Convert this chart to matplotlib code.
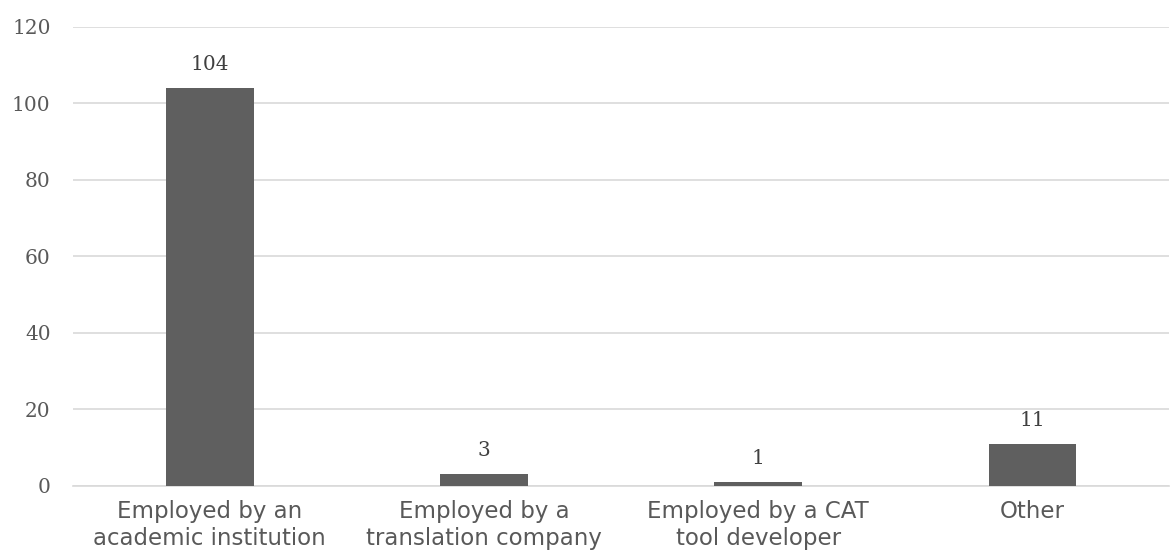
import matplotlib
matplotlib.use('Agg')
import matplotlib.pyplot as plt
import numpy as np

categories = ['Employed by an\nacademic institution', 'Employed by a\ntranslation company',
              'Employed by a CAT\ntool developer', 'Other']
counts = [104, 3, 1, 11]
yticks = [0, 20, 40, 60, 80, 100, 120]

fig = plt.figure(figsize=(11.73, 5.59), dpi=100, facecolor='white')
ax = fig.add_axes([0.062, 0.131, 0.935, 0.821])

x = np.arange(len(categories))
bars = ax.bar(x, counts, width=0.32, color='#5f5f5f', zorder=3)

for rect, v in zip(bars, counts):
    ax.annotate(str(v), (rect.get_x() + rect.get_width() / 2, v),
                xytext=(0, 10), textcoords='offset points', ha='center', va='bottom',
                fontsize=14.5, family='DejaVu Serif', color='#404040')

ax.set_xlim(-0.5, len(categories) - 0.5)
ax.set_ylim(0, 120)
ax.set_yticks(yticks)
ax.set_yticklabels([str(t) for t in yticks], family='DejaVu Serif', fontsize=14.5, color='#595959')
ax.set_xticks(x)
ax.set_xticklabels(categories, family='DejaVu Sans', fontsize=16.5, color='#595959', linespacing=1.25)
ax.tick_params(axis='both', length=0)
ax.tick_params(axis='y', pad=16)
ax.tick_params(axis='x', pad=10)

ax.grid(axis='y', color='#d9d9d9', linewidth=1.2, zorder=0)
for s in ['top', 'right', 'left']:
    ax.spines[s].set_visible(False)
ax.spines['bottom'].set_color('#d9d9d9')
ax.spines['bottom'].set_linewidth(1.2)

fig.savefig('out.png', dpi=100)
